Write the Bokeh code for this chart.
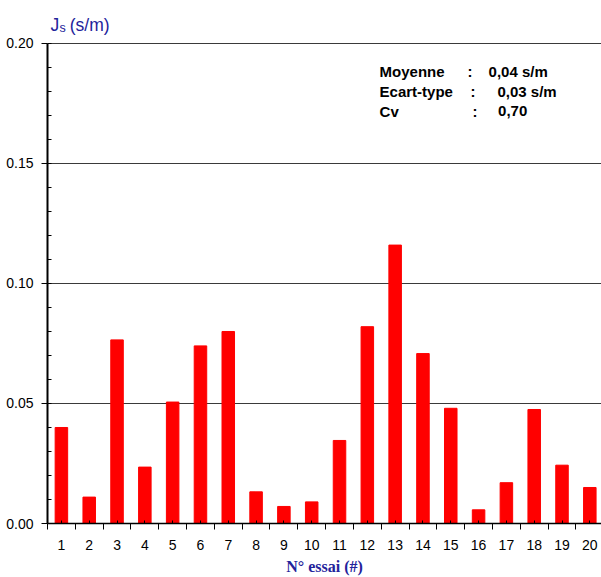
from bokeh.plotting import figure
from bokeh.models import Range1d, FixedTicker, PrintfTickFormatter, Label, ColumnDataSource
from bokeh.embed import file_html
from bokeh.resources import INLINE

# ---- data ----
essais = list(range(1, 21))
js_values = [0.040, 0.011, 0.0765, 0.0235, 0.0506, 0.074, 0.080, 0.0132, 0.0071, 0.009,
             0.0346, 0.082, 0.116, 0.0708, 0.048, 0.0057, 0.017, 0.0475, 0.0243, 0.015]
y_ticks = [0.00, 0.05, 0.10, 0.15, 0.20]
y_minor = [round(0.01 * i, 2) for i in range(21)]
x_bounds = [i + 0.5 for i in range(0, 21)]
stats_names = ["Moyenne", "Ecart-type", "Cv"]
stats_values = ["0,04 s/m", "0,03 s/m", "0,70"]

NAVY = "#23239b"
FONT = "Liberation Sans"

# y range extends a little above 0.20 so the unit label fits inside the frame
p = figure(width=601, height=577, output_backend="svg", toolbar_location=None,
           x_range=Range1d(0.5, 20.42), y_range=Range1d(0, 0.2179),
           min_border_left=47, min_border_right=0, min_border_top=0, min_border_bottom=54)

src = ColumnDataSource(dict(x=essais, top=js_values))
p.vbar(x="x", top="top", width=0.45, source=src, fill_color="#ff0000", line_color="#ff0000")

p.outline_line_color = None
p.background_fill_color = "white"
p.border_fill_color = "white"

# grid
p.xgrid.grid_line_color = None
p.ygrid.ticker = FixedTicker(ticks=y_ticks)
p.ygrid.grid_line_color = "#3a3a3a"
p.ygrid.grid_line_width = 1.2

# y axis
ya = p.yaxis[0]
ya.ticker = FixedTicker(ticks=y_ticks, minor_ticks=y_minor)
ya.formatter = PrintfTickFormatter(format="%.2f")
ya.bounds = (0, 0.20)
ya.axis_line_color = "black"
ya.axis_line_width = 2
ya.major_tick_out = 6
ya.major_tick_in = 0
ya.minor_tick_in = 4
ya.minor_tick_out = 0
ya.major_tick_line_color = "black"
ya.minor_tick_line_color = "black"
ya.major_label_standoff = 8
ya.major_label_text_font = FONT
ya.major_label_text_font_size = "14px"
ya.major_label_text_color = "black"

# x axis
xa = p.xaxis[0]
xa.ticker = FixedTicker(ticks=essais, minor_ticks=x_bounds)
xa.axis_line_color = "black"
xa.axis_line_width = 1.5
xa.major_tick_out = 0
xa.major_tick_in = 3
xa.minor_tick_out = 6
xa.minor_tick_in = 0
xa.major_tick_line_color = "black"
xa.minor_tick_line_color = "black"
xa.major_label_standoff = 10
xa.major_label_text_font = FONT
xa.major_label_text_font_size = "14px"
xa.major_label_text_color = "black"
xa.axis_label = "N° essai (#)"
xa.axis_label_text_font = "Liberation Serif"
xa.axis_label_text_font_style = "bold"
xa.axis_label_text_font_size = "16px"
xa.axis_label_text_color = NAVY
xa.axis_label_standoff = 5

# y title: J_s (s/m)
p.add_layout(Label(x=0.608, y=0.2075, text="J", text_font=FONT, text_font_size="17.5px",
                   text_color=NAVY, text_baseline="alphabetic"))
p.add_layout(Label(x=0.931, y=0.2063, text="s", text_font=FONT, text_font_size="12.5px",
                   text_color=NAVY, text_baseline="alphabetic"))
p.add_layout(Label(x=1.30, y=0.2075, text="(s/m)", text_font=FONT, text_font_size="17.5px",
                   text_color=NAVY, text_baseline="alphabetic"))

# stats box
name_x = 12.44
colon_x = [15.60, 15.71, 15.78]
val_x = [16.36, 16.68, 16.70]
row_y = [0.1883, 0.1800, 0.1717]
for i in range(3):
    p.add_layout(Label(x=name_x, y=row_y[i], text=stats_names[i], text_font=FONT,
                       text_font_size="15px", text_font_style="bold", text_color="black",
                       text_baseline="alphabetic"))
    p.add_layout(Label(x=colon_x[i], y=row_y[i], text=":", text_font=FONT,
                       text_font_size="15px", text_font_style="bold", text_color="black",
                       text_baseline="alphabetic"))
    p.add_layout(Label(x=val_x[i], y=row_y[i], text=stats_values[i], text_font=FONT,
                       text_font_size="15px", text_font_style="bold", text_color="black",
                       text_baseline="alphabetic"))

open("out.html", "w").write(file_html(p, INLINE))
